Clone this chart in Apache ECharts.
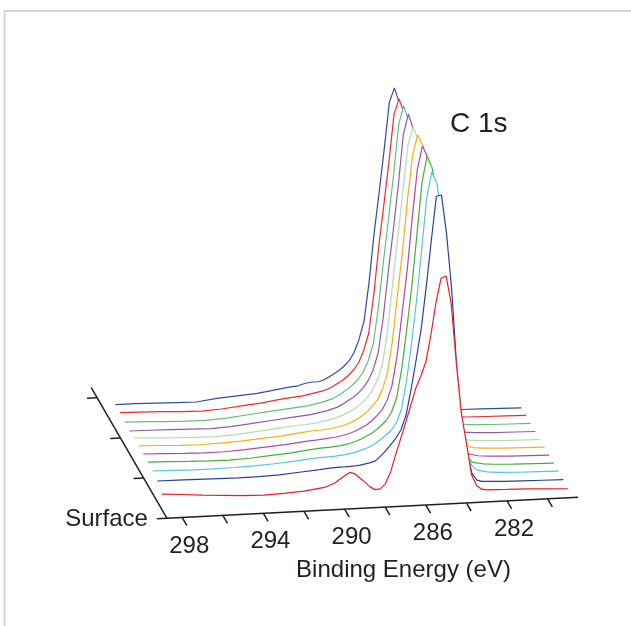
<!DOCTYPE html>
<html lang="en">
<head>
<meta charset="UTF-8">
<title>C 1s depth profile</title>
<script src="https://cdn.jsdelivr.net/npm/echarts@6/dist/echarts.min.js"></script>
<style>
    html, body { margin: 0; padding: 0; background: #fff; }
    #main { width: 631px; height: 626px; }
</style>
</head>
<body>
<div id="main"></div>
<script type="text/javascript">

// binding energy grid shared by all scans (eV)
var bindingEnergy = [299, 298, 297, 296, 295, 294, 293, 292, 291, 290.5,
    290, 289.75, 289.5, 289.25, 289, 288.75, 288.5, 288.25, 288, 287.75, 287.5, 287.25, 287,
    286.75, 286.5, 286.25, 286, 285.75, 285.5, 285.25, 285, 284.75, 284.5, 284.25, 284,
    283.75, 283.5, 283.25, 283, 282.5, 282, 281, 280, 279];

// intensities (a.u.), scan0 = surface, scan10 = deepest
var scan0 = [24.5, 23, 21.4, 20, 18.7, 18.3, 19, 20.2, 22.8, 26.5,
    33.5, 36.5, 35, 30.5, 26, 21, 18, 18.5, 23, 34, 51, 67, 83,
    100, 117, 129, 143, 170, 202, 226, 228, 200, 141, 90, 60,
    28, 17, 13, 12, 11.8, 11.5, 11, 10, 9];
var scan1 = [29.5, 29.3, 29, 28.8, 28.5, 28.6, 29.5, 31, 32.5, 33.5,
    34, 34, 34.2, 34.5, 35, 36, 37, 38.5, 43, 48, 54, 60, 68,
    82, 108, 137, 168, 210, 256, 300, 301, 262, 207, 128, 74,
    42, 21, 14, 12.5, 12, 11.5, 11, 10.5, 10];
var scan2 = [31.5, 31, 30.5, 30.5, 30.8, 31.5, 32.5, 34, 36, 36.5,
    37, 37.5, 38, 39, 40, 41.5, 43, 45, 48, 51.5, 55.5, 60, 67,
    80, 107, 145, 188, 238, 290, 316, 305, 270, 222, 160, 100,
    56, 30, 20, 15.5, 13.5, 12.5, 11.5, 11, 10.5];
var scan3 = [32.4, 31.8, 31, 30.5, 30.1, 31, 32.5, 34, 36.5, 37.5,
    38, 38.5, 39, 40, 41, 42.5, 44.5, 47, 49.5, 53, 57, 62, 70,
    84, 112, 152, 195, 246, 298, 324, 312, 280, 228, 165, 104,
    58, 31, 20, 15.5, 13.5, 12.5, 11.5, 11, 10.5];
var scan4 = [32.4, 31.8, 31, 30.5, 30.5, 31.5, 33, 34.5, 36.7, 37.5,
    38.5, 39, 39.5, 40.5, 41.5, 43, 45, 47.5, 50, 54, 58.5, 64, 73,
    88, 117, 160, 203, 255, 303, 326, 315, 284, 232, 168, 106,
    60, 32, 21, 16, 13.5, 12.5, 11.5, 11, 10.5];
var scan5 = [32.4, 31.8, 31, 30.5, 31, 32, 33.5, 35, 37.5, 38.5,
    39, 39.5, 40, 41, 42, 43.5, 45.5, 48, 51, 55, 60, 66, 76,
    92, 124, 170, 214, 266, 310, 329, 318, 286, 234, 170, 108,
    61, 32, 21, 16, 13.5, 12.5, 11.5, 11, 10.5];
var scan6 = [32.3, 31.5, 30.5, 29.8, 29.5, 30.5, 32.5, 34.5, 36.5, 37,
    38, 39, 40, 41, 42.5, 44, 46.5, 49, 52, 56, 61, 68, 78,
    94, 128, 175, 220, 266, 312, 329, 316, 284, 230, 166, 104,
    58, 31, 20, 15.5, 13, 12, 11, 10.5, 10];
var scan7 = [31.3, 31, 30.5, 30, 29.5, 30.5, 32.5, 34.5, 36.5, 37.5,
    38.5, 39.5, 40.5, 41.5, 43, 44.5, 47, 50, 53, 57, 62, 69, 79,
    96, 130, 176, 218, 263, 314, 334, 318, 284, 228, 162, 100,
    55, 30, 19, 15, 13, 12, 11, 10.5, 10];
var scan8 = [32.2, 31.5, 30.5, 30, 29.8, 31, 33, 35, 37, 38,
    39, 40, 41, 42, 43.5, 45, 47.5, 50.5, 54, 58, 63, 70, 81,
    98, 134, 180, 222, 266, 316, 334, 318, 282, 224, 158, 96,
    52, 29, 19, 15, 13, 12, 11, 10.5, 10];
var scan9 = [33.5, 33, 32.5, 31.5, 31, 32, 34, 36, 39, 40,
    41, 42, 43, 44, 45, 46.5, 49, 52, 55, 59, 64, 71, 83,
    100, 138, 187, 228, 271, 318, 333, 318, 280, 220, 154, 92,
    49, 27, 18, 14.5, 12.5, 11.5, 11, 10.5, 10];
var scan10 = [33.5, 33.5, 33, 32.5, 32, 34.5, 36, 37.5, 40.5, 42,
    43, 44.5, 45.5, 46, 46, 47.5, 50, 53, 56, 60, 65, 73, 86,
    104, 143, 192, 233, 276, 322, 336, 320, 280, 218, 150, 88,
    45, 25, 17, 14, 12, 11, 10.5, 10, 9.5];

var scans = [scan0, scan1, scan2, scan3, scan4, scan5, scan6, scan7, scan8, scan9, scan10];
var scanDepth = [0, 0.2, 0.4, 0.6, 0.8, 1.0, 1.2, 1.4, 1.6, 1.8, 2.0];

var energyTicks = [298, 296, 294, 292, 290, 288, 286, 284, 282, 280];
var energyLabels = [298, 294, 290, 286, 282];
var depthTicks = [0, 1, 2, 3];
var depthLabels = ['Surface', '', '', ''];

var scanColors = ['#ed1c24', '#2b3f97', '#55c5dc', '#45b035', '#b04a9e', '#f9ae17',
    '#b5dcb0', '#8d5ca8', '#65bd80', '#ed2b2e', '#2d4ea0'];

// oblique 3D frame: energy runs right, depth runs up-left, intensity runs up
var BE_START = 298.75, BE_END = 278.5, DEPTH_END = 3.25;
var frame = {ox: 167, oy: 107.7, ex: 20.3, ey: 1.04, dx: -23.3, dy: 40.2, k: 1};

function project(be, d, v) {
    var u = BE_START - be;
    return [frame.ox + u * frame.ex + d * frame.dx,
            frame.oy + u * frame.ey + d * frame.dy + v * frame.k];
}

var font = 'Liberation Sans, Arial, sans-serif';
var ink = '#231f20';
var clear = 'rgba(0,0,0,0)';

var series = [];

// back to front, each scan hides what is behind it
for (var k = scans.length - 1; k >= 0; k--) {
    var pts = [];
    for (var i = 0; i < bindingEnergy.length; i++) {
        pts.push(project(bindingEnergy[i], scanDepth[k], scans[k][i]));
    }
    series.push({
        type: 'line',
        data: pts,
        z: 2 + (scans.length - k),
        showSymbol: false,
        silent: true,
        lineStyle: {color: scanColors[k], width: 1.2},
        areaStyle: {color: '#fff', opacity: 1, origin: 'start'}
    });
}

// axis lines and ticks
var axisSegs = [
    {coords: [project(BE_START, 0, 0), project(BE_END, 0, 0)]},
    {coords: [project(BE_START, 0, 0), project(BE_START, DEPTH_END, 0)]}
];
energyTicks.forEach(function (e) {
    axisSegs.push({coords: [project(e, 0, 0), project(e, -0.2, 0)]});
});
depthTicks.forEach(function (d) {
    axisSegs.push({coords: [project(BE_START, d, 0), project(BE_START + 0.5, d, 0)]});
});

series.push({
    type: 'lines',
    coordinateSystem: 'cartesian2d',
    z: 30,
    silent: true,
    lineStyle: {color: ink, width: 1.5, opacity: 1},
    data: axisSegs
});

series.push({
    type: 'scatter',
    z: 31,
    silent: true,
    symbolSize: 2,
    itemStyle: {color: clear, opacity: 1},
    label: {
        show: true, position: 'inside', offset: [7, 28.5], opacity: 1, textBorderWidth: 0,
        formatter: '{b}', color: ink, fontSize: 24, fontFamily: font
    },
    data: energyLabels.map(function (e) {
        return {name: String(e), value: project(e, 0, 0)};
    })
});

series.push({
    type: 'scatter',
    z: 31,
    silent: true,
    symbolSize: 2,
    itemStyle: {color: clear, opacity: 1},
    label: {
        show: true, position: 'left', distance: 8, offset: [0, 1], opacity: 1, textBorderWidth: 0,
        formatter: '{b}', color: ink, fontSize: 24, fontFamily: font
    },
    data: depthTicks.map(function (d, i) {
        return {name: depthLabels[i], value: project(BE_START + 0.5, d, 0)};
    })
});

var myChart = echarts.init(document.getElementById('main'));
var option = {
    animation: false,
    grid: {left: 0, right: 0, top: 0, bottom: 0},
    xAxis: {type: 'value', min: 0, max: 631, show: false},
    yAxis: {type: 'value', min: 0, max: 626, show: false},
    graphic: [
        {type: 'rect', z: 100, silent: true, shape: {x: 4.5, y: 11, width: 700, height: 700},
            style: {fill: 'none', stroke: '#d6d6d6', lineWidth: 2}},
        {type: 'text', z: 100, x: 450, y: 124, silent: true,
            style: {text: 'C 1s', fill: ink, font: '28px ' + font, align: 'left', verticalAlign: 'middle'}},
        {type: 'text', z: 100, x: 403.5, y: 570, silent: true,
            style: {text: 'Binding Energy (eV)', fill: ink, font: '24px ' + font, align: 'center', verticalAlign: 'middle'}}
    ],
    series: series
};
myChart.setOption(option);

</script>
</body>
</html>
